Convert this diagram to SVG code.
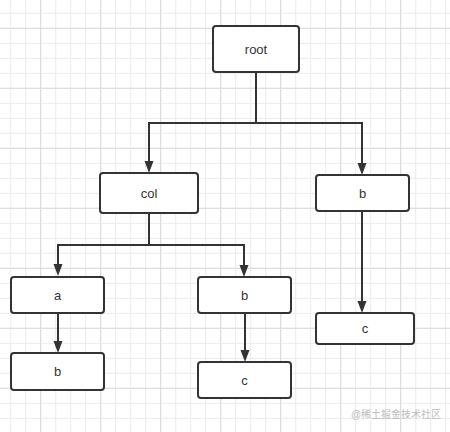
<svg xmlns="http://www.w3.org/2000/svg" width="450" height="432" viewBox="0 0 450 432">
<defs>
<pattern id="minor" width="15" height="15" patternUnits="userSpaceOnUse" x="10.2" y="12.8"><path d="M0.5 0V15M0 0.5H15" stroke="#ebebeb" stroke-width="1" fill="none"/></pattern>
<pattern id="major" width="60" height="60" patternUnits="userSpaceOnUse" x="40.2" y="27.8"><path d="M0.5 0V60M0 0.5H60" stroke="#dadada" stroke-width="1" fill="none"/></pattern>
<marker id="arr" markerUnits="userSpaceOnUse" markerWidth="14" markerHeight="12" refX="6" refY="4.5" orient="auto"><path d="M0 0L12 4.5L0 9z" fill="#333"/></marker>
<style>
.node rect{fill:#fff;stroke:#333;stroke-width:2}
.node text{font-family:"Liberation Sans",Helvetica,Arial,sans-serif;font-size:13px;fill:#333;text-anchor:middle;dominant-baseline:central}
#edges path{fill:none;stroke:#333;stroke-width:2;marker-end:url(#arr)}
.wm{font-family:"Liberation Sans","Noto Sans CJK SC",sans-serif;font-size:10px;fill:#bdbdbd;text-anchor:middle}
</style>
</defs>
<rect width="450" height="432" fill="#fff"/>
<rect width="450" height="432" fill="url(#minor)"/>
<rect width="450" height="432" fill="url(#major)"/>
<g id="edges">
<path d="M256 72V123H149V167"/>
<path d="M256 72V123H362V169"/>
<path d="M149 213V245H58V270"/>
<path d="M149 213V245H244V271"/>
<path d="M58 313V347"/>
<path d="M245 313V356"/>
<path d="M362 211V307"/>
</g>
<g id="root" class="node"><rect x="213" y="26" width="86" height="46" rx="3"/><text x="256" y="49">root</text></g>
<g id="col" class="node"><rect x="100" y="173" width="98" height="40" rx="3"/><text x="149" y="193">col</text></g>
<g id="b1" class="node"><rect x="316" y="175" width="93" height="36" rx="3"/><text x="362.5" y="193">b</text></g>
<g id="a" class="node"><rect x="11" y="277" width="93" height="36" rx="3"/><text x="57.5" y="295">a</text></g>
<g id="b2" class="node"><rect x="198" y="277" width="93" height="36" rx="3"/><text x="244.5" y="295">b</text></g>
<g id="c1" class="node"><rect x="316" y="313" width="98" height="31" rx="3"/><text x="365" y="328.5">c</text></g>
<g id="b3" class="node"><rect x="11" y="353" width="93" height="37" rx="3"/><text x="57.5" y="371.5">b</text></g>
<g id="c2" class="node"><rect x="198" y="362" width="93" height="36" rx="3"/><text x="244.5" y="380">c</text></g>
<text class="wm" x="396" y="418">@稀土掘金技术社区</text>
</svg>
